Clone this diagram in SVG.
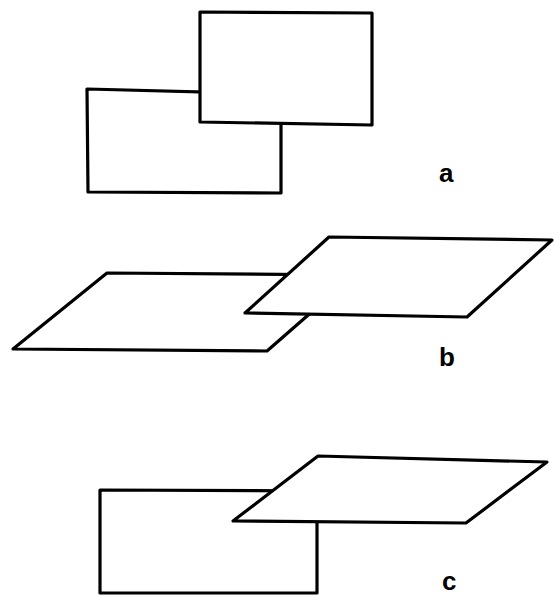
<svg xmlns="http://www.w3.org/2000/svg" width="554" height="596" viewBox="0 0 554 596">
<style>
.s{fill:#fff;stroke:#000;stroke-width:3.2;stroke-linejoin:round}
.l{font-family:"Liberation Sans",Arial,sans-serif;font-weight:bold;font-size:26px;fill:#000}
</style>
<rect width="554" height="596" fill="#fff"/>
<g id="fig-a">
<polygon class="s" points="87,89 281,94 281,193 88,192"/>
<polygon class="s" points="200,12 372,13 372,125 200,122"/>
<text class="l" x="439" y="182">a</text>
</g>
<g id="fig-b">
<polygon class="s" points="107,273 354,275 267,351 13,349"/>
<polygon class="s" points="329,237 552,240 467,317 245,313"/>
<text class="l" x="439" y="366">b</text>
</g>
<g id="fig-c">
<polygon class="s" points="100,490 317,491 317,593 100,593"/>
<polygon class="s" points="318,456 547,462 466,523 233,521"/>
<text class="l" x="442" y="590">c</text>
</g>
</svg>
